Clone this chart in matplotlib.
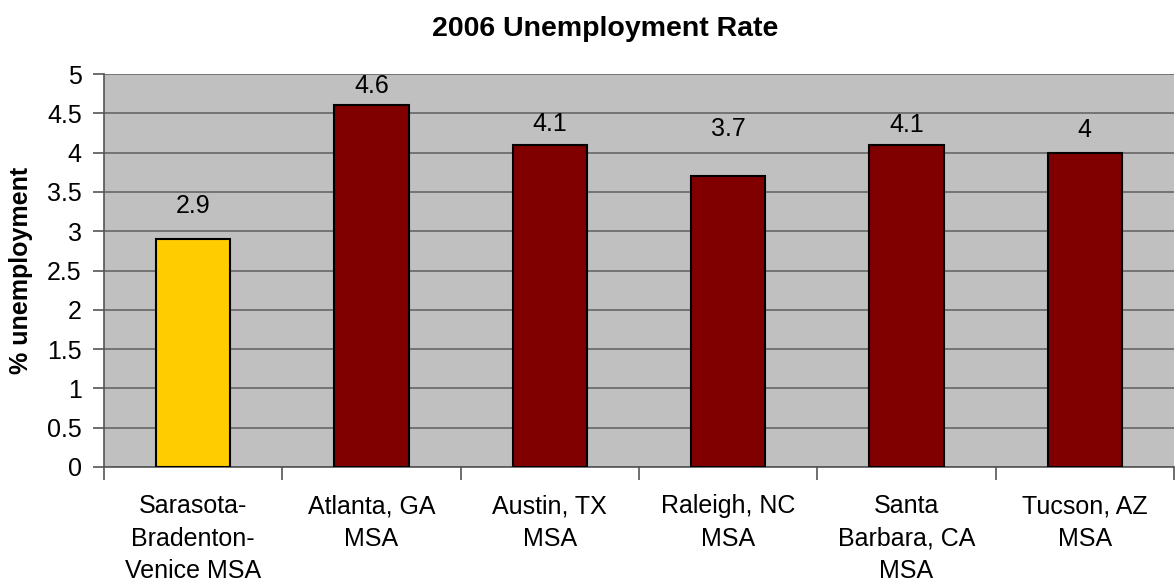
import matplotlib
matplotlib.use("Agg")
import matplotlib.pyplot as plt
import numpy as np

plt.rcParams["font.family"] = ["Liberation Sans", "DejaVu Sans"]

areas = [
    "Sarasota-\nBradenton-\nVenice MSA",
    "Atlanta, GA\nMSA",
    "Austin, TX\nMSA",
    "Raleigh, NC\nMSA",
    "Santa\nBarbara, CA\nMSA",
    "Tucson, AZ\nMSA",
]
rates = [2.9, 4.6, 4.1, 3.7, 4.1, 4.0]
rate_text = ["2.9", "4.6", "4.1", "3.7", "4.1", "4"]
bar_colors = ["#FFCC00", "#800000", "#800000", "#800000", "#800000", "#800000"]
# how far each value label sits above its bar, in pixels
label_lift = [33, 19, 21, 47, 20, 23]

dpi = 100
fig = plt.figure(figsize=(1175 / dpi, 584 / dpi), dpi=dpi)
ax = fig.add_axes([104 / 1175, 1 - 467 / 584, (1174 - 104) / 1175, (467 - 74) / 584])
ax.set_facecolor("#C0C0C0")

x = np.arange(len(areas))
ax.bar(x, rates, width=0.415, color=bar_colors, edgecolor="black", linewidth=1.5, zorder=3)

for xi, v, t, lift in zip(x, rates, rate_text, label_lift):
    ax.annotate(t, xy=(xi, v), xytext=(0, lift), textcoords="offset pixels",
                ha="center", va="center", fontsize=18, zorder=4)

ax.set_xlim(-0.5, len(areas) - 0.5)
ax.set_ylim(0, 5)
ax.set_yticks(np.arange(0, 5.01, 0.5))
ax.set_yticklabels(["0", "0.5", "1", "1.5", "2", "2.5", "3", "3.5", "4", "4.5", "5"])
ax.yaxis.grid(True, color="#666666", linewidth=1.2, zorder=0)
ax.set_axisbelow(True)

# ticks at category boundaries, labels centred under bars
ax.set_xticks(np.arange(-0.5, len(areas), 1.0))
ax.set_xticklabels([])
ax.set_xticks(x, minor=True)
ax.set_xticklabels(areas, minor=True, fontsize=18, linespacing=1.45)
ax.tick_params(axis="x", which="minor", length=0, pad=19.5)
ax.tick_params(axis="x", which="major", length=9, color="#555555", width=1.2)
ax.tick_params(axis="y", length=8, color="#555555", width=1.2, labelsize=18, pad=8)

for side in ["top", "right"]:
    ax.spines[side].set_visible(False)
for side in ["left", "bottom"]:
    ax.spines[side].set_color("#555555")
    ax.spines[side].set_linewidth(1.2)

ax.set_ylabel("% unemployment", fontsize=18, fontweight="bold", labelpad=10)
fig.text(0.515, 1 - 29 / 584, "2006 Unemployment Rate", ha="center", va="center",
         fontsize=20.5, fontweight="bold")

plt.savefig("out.png", dpi=dpi)
plt.close("all")
